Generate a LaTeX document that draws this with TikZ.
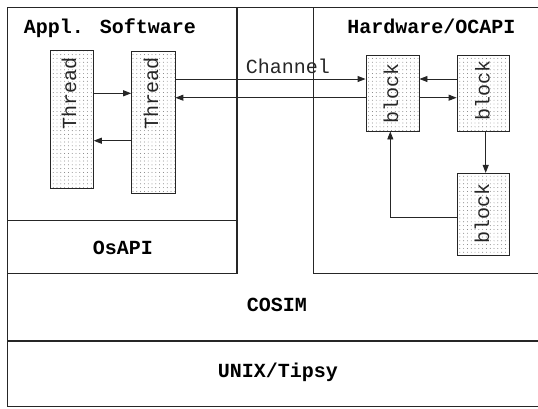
\documentclass[tikz,border=0pt]{standalone}
\usepackage{fontspec}
\setmainfont{Liberation Mono}
\usetikzlibrary{arrows.meta,patterns.meta}
\begin{document}
\begin{tikzpicture}[x=1pt,y=-1pt,
  frame/.style={draw=black!85,line width=1.1pt},
  dotbox/.style={draw=black!85,line width=0.9pt,pattern={Dots[distance=3.8pt,radius=0.45pt]},pattern color=black!60,inner sep=0pt},
  arr/.style={draw=black!85,line width=0.9pt,-{Triangle[length=8pt,width=6pt]}},
  title/.style={font=\fontsize{20}{24}\selectfont\bfseries,inner sep=0pt},
  lbl/.style={font=\fontsize{20}{24}\selectfont,inner sep=0pt,text=black!85},
  vlbl/.style={lbl,rotate=90}]
\useasboundingbox (0,0) rectangle (538,408);
% layers
\draw[frame] (7.5,7.5) rectangle (539.5,406.7);
\draw[frame] (7.5,7.5) rectangle (237,273.3);
\draw[frame] (7.5,220.7) -- (237,220.7);
\draw[frame] (313.5,7.5) rectangle (539.5,273.3);
\draw[frame] (7.5,341) -- (539.5,341);
% titles
\node[title] (appl) at (110,28) {Appl. Software};
\node[title] (hw) at (431.5,26) {Hardware/OCAPI};
\node[title] (osapi) at (123,248) {OsAPI};
\node[title] (cosim) at (277,305) {COSIM};
\node[title] (unix) at (278,372) {UNIX/Tipsy};
% blocks
\node[dotbox,minimum width=42.6pt,minimum height=137.6pt] (t1) at (72,119.5) {};
\node[dotbox,minimum width=43.3pt,minimum height=141.6pt] (t2) at (153.3,122.5) {};
\node[dotbox,minimum width=53pt,minimum height=76pt] (b1) at (392.5,93) {};
\node[dotbox,minimum width=52.3pt,minimum height=76pt] (b2) at (483.2,93) {};
\node[dotbox,minimum width=52.3pt,minimum height=81.7pt] (b3) at (483.2,214.2) {};
\node[vlbl] (t1l) at (69,93) {Thread};
\node[vlbl] (t2l) at (151,93) {Thread};
\node[vlbl] (b1l) at (391,93) {block};
\node[vlbl] (b2l) at (482.5,90) {block};
\node[vlbl] (b3l) at (482,213) {block};
\node[lbl] (chan) at (288,66.5) {Channel};
% connectors
\draw[arr] (t1.east |- 0,93.3) -- (t2.west |- 0,93.3);
\draw[arr] (t2.west |- 0,140.7) -- (t1.east |- 0,140.7);
\draw[arr] (t2.east |- 0,79) -- (b1.west |- 0,79);
\draw[arr] (b1.west |- 0,97.7) -- (t2.east |- 0,97.7);
\draw[arr] (b2.west |- 0,79) -- (b1.east |- 0,79);
\draw[arr] (b1.east |- 0,97.7) -- (b2.west |- 0,97.7);
\draw[arr] (b2.south -| 485.7,0) -- (b3.north -| 485.7,0);
\draw[arr] (b3.west |- 0,217) -| (b1.south -| 390.3,0);
\end{tikzpicture}
\end{document}
